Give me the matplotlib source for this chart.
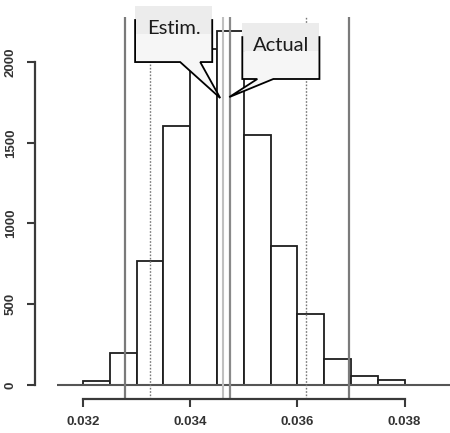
import matplotlib
matplotlib.use("Agg")
import matplotlib.pyplot as plt
from matplotlib.patches import Polygon
import numpy as np

# ---- data ----
bin_lefts = [0.0320, 0.0325, 0.0330, 0.0335, 0.0340, 0.0345,
             0.0350, 0.0355, 0.0360, 0.0365, 0.0370, 0.0375]
bin_width = 0.0005
counts = [25, 200, 770, 1605, 2080, 2195, 1550, 860, 440, 160, 55, 30]
outer_lines = [0.03278, 0.03696]      # solid gray
inner_lines = [0.033244, 0.03616]     # dotted gray
estimate = 0.03461
actual = 0.034735
x_ticks = [0.032, 0.034, 0.036, 0.038]
x_ticklabels = ["0.032", "0.034", "0.036", "0.038"]
y_ticks = [0, 500, 1000, 1500, 2000]
y_ticklabels = ["0", "500", "1000", "1500", "2000"]

W, H = 450, 433
fig = plt.figure(figsize=(W / 100, H / 100), dpi=100)
left_px, right_px, top_px, bot_px = 57, 470, 17, 399
ax = fig.add_axes([left_px / W, 1 - bot_px / H,
                   (right_px - left_px) / W, (bot_px - top_px) / H])
ax.set_xlim(0.031515, 0.039220)
ax.set_ylim(-87, 2279)
ax.patch.set_alpha(0)

ax.bar(bin_lefts, counts, width=bin_width, align="edge",
       facecolor="white", edgecolor="#1e1e1e", linewidth=1.3, zorder=2)

ax.axhline(0, color="#555555", lw=1.5, zorder=3)
for v in outer_lines:
    ax.axvline(v, color="#7a7a7a", lw=1.6, zorder=3)
for v in inner_lines:
    ax.axvline(v, color="#777777", lw=1.0, ls=(0, (1.2, 1.2)), zorder=3)
ax.axvline(estimate, color="#c0c0c0", lw=1.5, zorder=3)
ax.axvline(actual, color="#8a8a8a", lw=1.6, zorder=3)

# axes styling (R-like)
for s in ["top", "right"]:
    ax.spines[s].set_visible(False)
ax.spines["left"].set_position(("outward", 16))
ax.spines["left"].set_bounds(0, 2000)
ax.spines["bottom"].set_bounds(0.032, 0.038)
for s in ["left", "bottom"]:
    ax.spines[s].set_color("#3a3a3a")
    ax.spines[s].set_linewidth(1.6)
    ax.spines[s].set_zorder(4)
ax.set_xticks(x_ticks)
ax.set_xticklabels(x_ticklabels)
ax.set_yticks(y_ticks)
ax.set_yticklabels(y_ticklabels, rotation=90, va="center")
ax.tick_params(axis="both", length=6, width=1.5, color="#3a3a3a",
               labelcolor="#333333")
ax.tick_params(axis="x", pad=6)
ax.tick_params(axis="y", pad=7)
for lab in ax.get_xticklabels() + ax.get_yticklabels():
    lab.set_fontfamily("Liberation Sans")
    lab.set_fontweight("bold")
    lab.set_fontsize(9.5)


def callout(x0, x1, y0, y1, b0, b1, tip, text):
    ymid = (y0 + y1) / 2
    fill_top = Polygon([(x0, y1), (x1, y1), (x1, ymid), (x0, ymid)],
                       closed=True, facecolor="#ececec", edgecolor="none",
                       zorder=5, clip_on=False)
    fill_bot = Polygon([(x0, ymid), (x1, ymid), (x1, y0),
                        (b1, y0), tip, (b0, y0), (x0, y0)],
                       closed=True, facecolor="#f6f6f6", edgecolor="none",
                       zorder=5, clip_on=False)
    ax.add_patch(fill_top)
    ax.add_patch(fill_bot)
    ys = y1 - (y1 - y0) * 0.25
    ax.plot([x0, x0, b0, tip[0], b1, x1, x1],
            [ys, y0, y0, tip[1], y0, y0, ys],
            color="black", lw=1.3, zorder=6, clip_on=False,
            solid_joinstyle="miter")
    ax.text((x0 + x1) / 2, y1 - (y1 - y0) * 0.4, text, ha="center", va="center",
            fontsize=14.5, family=["Lato", "DejaVu Sans"], color="#1a1a1a",
            zorder=7, clip_on=False)


callout(0.032972, 0.034411, 2000, 2347, 0.033813, 0.034187,
        (estimate - 0.00005, 1777), "Estim.")
callout(0.034972, 0.036411, 1895, 2241, 0.035252, 0.035551,
        (actual - 0.000006, 1783), "Actual")

fig.savefig("out.png", dpi=100)
